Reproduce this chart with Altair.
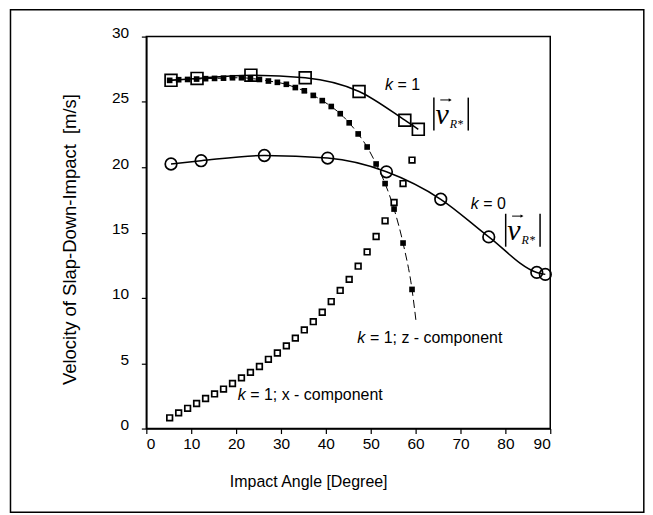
import altair as alt
import pandas as pd

# ---- data ----
angles = [5.2, 7.2, 9.2, 11.2, 13.2, 15.2, 17.2, 19.2, 21.2, 23.2, 25.2, 27.2, 29.2, 31.2,
          33.2, 35.2, 37.2, 39.2, 41.2, 43.2, 45.2, 47.2, 49.2, 51.2, 53.2, 55.2, 57.2, 59.2]
x_component = [0.82, 1.2, 1.55, 1.92, 2.3, 2.65, 3.02, 3.45, 3.88, 4.3, 4.75, 5.3, 5.78, 6.33,
               6.92, 7.55, 8.18, 8.9, 9.72, 10.57, 11.42, 12.43, 13.52, 14.7, 15.9, 17.3, 18.75, 20.55]
z_component = [26.65, 26.7, 26.72, 26.75, 26.78, 26.8, 26.82, 26.85, 26.85, 26.8, 26.72, 26.6, 26.5, 26.35,
               26.1, 25.85, 25.5, 25.1, 24.65, 24.1, 23.4, 22.55, 21.55, 20.25, 18.75, 16.8, 14.2, 10.65]
z_curve_end_angle = [60.1]
z_curve_end_value = [8.2]

k1_angles = [5.5, 11.3, 23.3, 35.4, 47.4, 57.6, 60.6]
k1_speed = [26.65, 26.8, 27.05, 26.85, 25.8, 23.6, 22.9]

k0_angles = [5.5, 12.2, 26.3, 40.4, 53.5, 65.6, 76.3, 87.0, 88.9]
k0_speed = [20.25, 20.5, 20.9, 20.7, 19.65, 17.55, 14.67, 11.95, 11.8]

x_ticks = [0, 10, 20, 30, 40, 50, 60, 70, 80, 90]
y_ticks = [0, 2.5, 5, 7.5, 10, 12.5, 15, 17.5, 20, 22.5, 25, 27.5, 30]

# annotations
k_text = ["k", "k", "k", "k"]
k_x = [53.18, 72.29, 47.02, 20.36]
k_y = [26.32, 17.21, 6.93, 2.58]
rest_text = ["= 1", "= 0", "= 1; z - component", "= 1; x - component"]
rest_x = [55.98, 75.09, 49.82, 23.16]

bar_x = [64.07, 71.73, 80.07, 87.73]
bar_y = [25.33, 25.33, 16.44, 16.44]
bar_y2 = [22.81, 22.81, 13.92, 13.92]
v_x = [65.9, 81.9]
v_y = [24.0, 15.11]
arrow_x = [65.5, 81.5]
arrow_x2 = [67.7, 83.7]
arrow_y = [25.15, 16.26]
sub_x = [69.1, 85.1]
sub_y = [23.3, 14.41]

FONT = "Liberation Sans"
SERIF = "Liberation Serif"

xs = alt.Scale(domain=[0, 90], nice=False, zero=False)
ys = alt.Scale(domain=[0, 30], nice=False, zero=False)

x_axis = alt.Axis(values=x_ticks, title="Impact Angle [Degree]", grid=False,
                  labelFontSize=15.5, labelFont=FONT, labelColor="black",
                  tickSize=5, labelPadding=3, tickColor="black", tickWidth=1.2,
                  domainColor="black", domainWidth=1.5,
                  titleFont=FONT, titleFontSize=16, titleFontWeight="normal", titleColor="black",
                  titleX=162.3, titleY=53, titleAlign="center", titleBaseline="middle")
y_axis = alt.Axis(values=y_ticks, title="Velocity of Slap-Down-Impact\u00a0 [m/s]", grid=False,
                  labelExpr="datum.value % 5 === 0 ? datum.label : ''",
                  labelFontSize=15.5, labelFont=FONT, labelColor="black",
                  tickSize=5, labelPadding=12.7, labelOffset=-4, tickColor="black", tickWidth=1.2,
                  domainColor="black", domainWidth=1.5,
                  titleFont=FONT, titleFontSize=18.5, titleFontWeight="normal", titleColor="black",
                  titleX=-76.7, titleY=203, titleAngle=270, titleAlign="center", titleBaseline="middle")

comp_df = pd.DataFrame({"angle": angles, "x": x_component, "z": z_component})
zline_df = pd.DataFrame({"angle": angles + z_curve_end_angle, "z": z_component + z_curve_end_value})
k1_df = pd.DataFrame({"angle": k1_angles, "v": k1_speed})
k0_df = pd.DataFrame({"angle": k0_angles, "v": k0_speed})

frame = alt.Chart(pd.DataFrame({"a": [0]})).mark_rect(
    fillOpacity=0, stroke="black", strokeWidth=1.5
).encode(x=alt.value(-136.2), x2=alt.value(498.8), y=alt.value(-27), y2=alt.value(477))

k1_line = alt.Chart(k1_df).mark_line(color="black", strokeWidth=1.5, interpolate="monotone").encode(
    x=alt.X("angle:Q", scale=xs, axis=x_axis),
    y=alt.Y("v:Q", scale=ys, axis=y_axis))
k0_line = alt.Chart(k0_df).mark_line(color="black", strokeWidth=1.5, interpolate="monotone").encode(
    x=alt.X("angle:Q", scale=xs), y=alt.Y("v:Q", scale=ys))
z_line = alt.Chart(zline_df).mark_line(color="black", strokeWidth=1, strokeDash=[8, 4],
                                       interpolate="monotone").encode(
    x=alt.X("angle:Q", scale=xs), y=alt.Y("z:Q", scale=ys))
z_pts = alt.Chart(comp_df).mark_point(shape="square", filled=True, color="black", size=32, opacity=1).encode(
    x=alt.X("angle:Q", scale=xs), y=alt.Y("z:Q", scale=ys))
x_pts = alt.Chart(comp_df).mark_point(shape="square", filled=True, fill="white", stroke="black",
                                      strokeWidth=1.7, size=32, opacity=1).encode(
    x=alt.X("angle:Q", scale=xs), y=alt.Y("x:Q", scale=ys))
k1_pts = alt.Chart(k1_df).mark_point(shape="square", filled=False, color="black", size=140,
                                     strokeWidth=1.7, opacity=1).encode(
    x=alt.X("angle:Q", scale=xs), y=alt.Y("v:Q", scale=ys))
k0_pts = alt.Chart(k0_df).mark_point(shape="circle", filled=False, color="black", size=135,
                                     strokeWidth=1.7, opacity=1).encode(
    x=alt.X("angle:Q", scale=xs), y=alt.Y("v:Q", scale=ys))

k_df = pd.DataFrame({"x": k_x, "y": k_y, "t": k_text})
rest_df = pd.DataFrame({"x": rest_x, "y": k_y, "t": rest_text})
k_lbl = alt.Chart(k_df).mark_text(font=FONT, fontSize=16, fontStyle="italic", align="left",
                                  baseline="middle", color="black").encode(
    x=alt.X("x:Q", scale=xs), y=alt.Y("y:Q", scale=ys), text="t:N")
rest_lbl = alt.Chart(rest_df).mark_text(font=FONT, fontSize=16, align="left",
                                        baseline="middle", color="black").encode(
    x=alt.X("x:Q", scale=xs), y=alt.Y("y:Q", scale=ys), text="t:N")

bar_df = pd.DataFrame({"x": bar_x, "y": bar_y, "y2": bar_y2})
bars = alt.Chart(bar_df).mark_rule(color="black", strokeWidth=1.5).encode(
    x=alt.X("x:Q", scale=xs), y=alt.Y("y:Q", scale=ys), y2="y2:Q")
v_df = pd.DataFrame({"x": v_x, "y": v_y, "t": ["v", "v"]})
v_lbl = alt.Chart(v_df).mark_text(font=SERIF, fontSize=30, fontStyle="italic", align="center",
                                  baseline="middle", color="black").encode(
    x=alt.X("x:Q", scale=xs), y=alt.Y("y:Q", scale=ys), text="t:N")
arrow_df = pd.DataFrame({"x": arrow_x, "x2": arrow_x2, "y": arrow_y})
arrow_shaft = alt.Chart(arrow_df).mark_rule(color="black", strokeWidth=1).encode(
    x=alt.X("x:Q", scale=xs), x2="x2:Q", y=alt.Y("y:Q", scale=ys))
arrow_head = alt.Chart(arrow_df).mark_point(shape="triangle-right", filled=True, color="black",
                                            size=12, opacity=1).encode(
    x=alt.X("x2:Q", scale=xs), y=alt.Y("y:Q", scale=ys))
sub_df = pd.DataFrame({"x": sub_x, "y": sub_y, "t": ["R*", "R*"]})
sub_lbl = alt.Chart(sub_df).mark_text(font=SERIF, fontSize=12, fontStyle="italic", align="center",
                                      baseline="middle", color="black").encode(
    x=alt.X("x:Q", scale=xs), y=alt.Y("y:Q", scale=ys), text="t:N")

chart = alt.layer(
    frame, k1_line, k0_line, z_line, z_pts, x_pts, k1_pts, k0_pts,
    k_lbl, rest_lbl, bars, v_lbl, arrow_shaft, arrow_head, sub_lbl
).properties(
    width=405, height=393,
    autosize=alt.AutoSizeParams(type="none"),
    padding={"left": 138.7, "top": 28, "right": 95, "bottom": 86},
    background="white",
).configure_view(stroke="black", strokeWidth=1.5)

chart.save("out.html", embed_options={"renderer": "svg", "actions": False})
